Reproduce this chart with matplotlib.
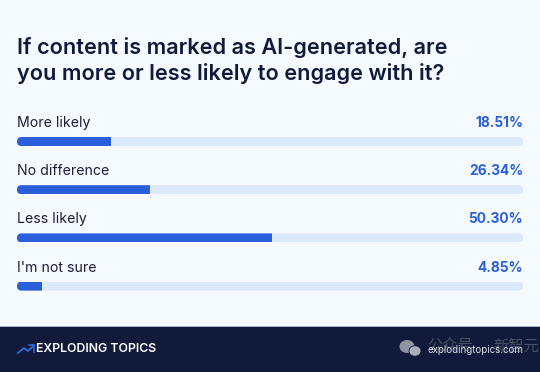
import matplotlib
matplotlib.use("Agg")
import matplotlib.pyplot as plt
from matplotlib.patches import FancyBboxPatch, Rectangle, Ellipse

categories = ["More likely", "No difference", "Less likely", "I'm not sure"]
values = [18.51, 26.34, 50.30, 4.85]
labels = ["18.51%", "26.34%", "50.30%", "4.85%"]
title_lines = ["If content is marked as AI-generated, are",
               "you more or less likely to engage with it?"]

W, H = 540, 372
BG = "#f5faff"
NAVY = "#111a3a"
BLUE = "#2a5fdc"
TRACK = "#dce8fb"
TXT = "#1a2138"

plt.rcParams["font.family"] = ["Inter", "Noto Sans CJK SC", "DejaVu Sans"]

fig = plt.figure(figsize=(W / 100, H / 100), dpi=100, facecolor=BG)

# background axes in pixel coords
bg = fig.add_axes([0, 0, 1, 1])
bg.set_xlim(0, W)
bg.set_ylim(H, 0)
bg.axis("off")

bg.add_patch(Rectangle((0, 327), W, 45, color=NAVY, lw=0))
bg.add_patch(Rectangle((0, 326), W, 1, color="#aab2c0", lw=0))

bg.text(17, 47, title_lines[0], fontsize=15.6, fontweight="semibold", color=NAVY, va="center")
bg.text(17, 73, title_lines[1], fontsize=15.6, fontweight="semibold", color=NAVY, va="center")

# bars
top, pitch, bar_h = 141.5, 48.2, 9
y0 = top - pitch / 2
y1 = top + pitch * 3.5
ax = fig.add_axes([17 / W, 1 - y1 / H, 506 / W, (y1 - y0) / H])
ax.set_xlim(0, 100)
ax.set_ylim(3.5, -0.5)
ax.axis("off")
ax.patch.set_alpha(0)

pos = range(len(categories))
tracks = ax.barh(pos, [100] * len(values), height=bar_h / pitch, color=TRACK)
fills = ax.barh(pos, values, height=bar_h / pitch, color=BLUE)

for i, (t, f) in enumerate(zip(tracks, fills)):
    yc = top + pitch * i
    clip = FancyBboxPatch((17, yc - bar_h / 2), 506, bar_h,
                          boxstyle="round,pad=0,rounding_size=4.5",
                          transform=bg.transData, fc="none", ec="none")
    t.set_clip_path(clip)
    f.set_clip_path(clip)
    bg.text(17, yc - 18.5, categories[i], fontsize=10.2, color=TXT, va="center")
    bg.text(523, yc - 18.5, labels[i], fontsize=9.9, fontweight="bold", color=BLUE,
            va="center", ha="right")

# footer logo
bg.plot([18, 24, 28, 34], [353, 348, 351, 345], color="#2f6be0", lw=1.3)
bg.plot([29, 34, 34], [345, 345, 352], color="#2f6be0", lw=1.1)
bg.text(36, 349.5, "EXPLODING TOPICS", fontsize=8.85, fontweight="semibold", color="white", va="center")

# watermark
bg.add_patch(Ellipse((407, 346.5), 15, 13, color="#8f94a3", lw=0))
bg.add_patch(Ellipse((415, 351), 12, 10.5, fc="#a9adb9", ec=NAVY, lw=0.6))
bg.text(427, 346, "公众号", fontsize=11, color="#4a5064", va="center")
bg.text(493, 346, "新智元", fontsize=11, color="#4a5064", va="center")
bg.text(523, 350, "explodingtopics.com", fontsize=7, color="#dfe2ea", va="center", ha="right")

fig.savefig("out.png", dpi=100, facecolor=BG)
